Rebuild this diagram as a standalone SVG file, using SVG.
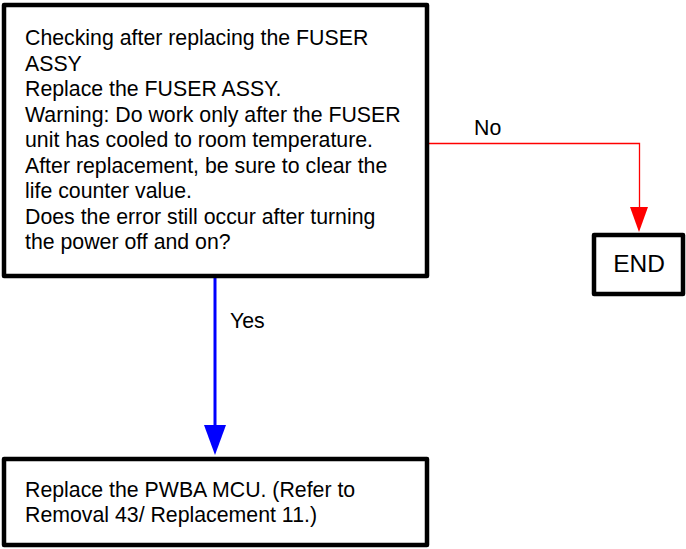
<svg xmlns="http://www.w3.org/2000/svg" width="686" height="549" viewBox="0 0 686 549">
<defs>
<style>
.box{fill:#fff;stroke:#000;stroke-width:4.5;stroke-linejoin:round}
.t{font-family:"Liberation Sans",Arial,sans-serif;font-size:21.3px;fill:#000}
</style>
</defs>
<rect width="686" height="549" fill="#fff"/>
<g id="connectors">
<path d="M427,143.5 H639.5 V210" fill="none" stroke="#ff0000" stroke-width="1.3"/>
<polygon points="630,207 648,207 639,232" fill="#f00"/>
<path d="M215,278 V428" fill="none" stroke="#00f" stroke-width="3"/>
<polygon points="204,425 226,425 215,455" fill="#00f"/>
<text class="t" x="474" y="135">No</text>
<text class="t" x="230" y="328">Yes</text>
</g>
<g id="check">
<rect class="box" x="4" y="5" width="423" height="271"/>
<text class="t" x="25" y="45">Checking after replacing the FUSER</text>
<text class="t" x="25" y="70.5">ASSY</text>
<text class="t" x="25" y="96">Replace the FUSER ASSY.</text>
<text class="t" x="25" y="121.5">Warning: Do work only after the FUSER</text>
<text class="t" x="25" y="147">unit has cooled to room temperature.</text>
<text class="t" x="25" y="172.5">After replacement, be sure to clear the</text>
<text class="t" x="25" y="198">life counter value.</text>
<text class="t" x="25" y="223.5">Does the error still occur after turning</text>
<text class="t" x="25" y="249">the power off and on?</text>
</g>
<g id="end">
<rect class="box" x="594" y="235" width="89" height="59"/>
<text class="t" x="639" y="272" text-anchor="middle" style="font-size:24.5px">END</text>
</g>
<g id="pwba">
<rect class="box" x="4" y="459" width="423" height="86"/>
<text class="t" x="25" y="497">Replace the PWBA MCU. (Refer to</text>
<text class="t" x="25" y="522">Removal 43/ Replacement 11.)</text>
</g>
</svg>
